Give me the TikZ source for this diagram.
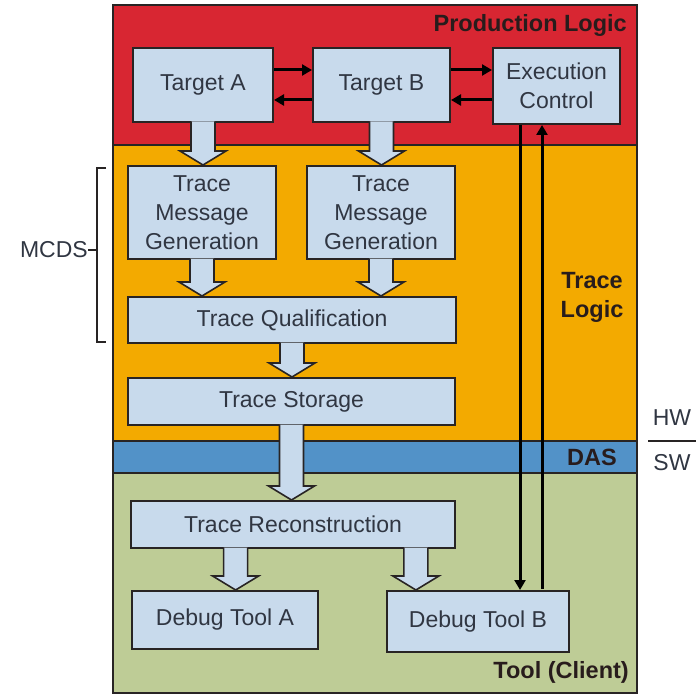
\documentclass[tikz,border=0pt]{standalone}
\usepackage{fontspec}
\setmainfont{Liberation Sans}
\usetikzlibrary{calc,arrows.meta}
\definecolor{redband}{RGB}{216,38,50}
\definecolor{orangeband}{RGB}{243,170,0}
\definecolor{blueband}{RGB}{82,146,200}
\definecolor{greenband}{RGB}{190,204,150}
\definecolor{boxfill}{RGB}{200,218,236}
\definecolor{edge}{RGB}{40,36,36}
\definecolor{txt}{RGB}{48,54,66}
\definecolor{lbl}{RGB}{40,28,28}
\newcommand\barrow[2]{%
  \path let \p1=(#1), \p2=(#2) in
  [blockarr] (\x1-12pt,\y1+1.5pt) -- (\x1-12pt,\y2+14pt) -- (\x1-23pt,\y2+14pt) -- (\x1,\y2)
  -- (\x1+23pt,\y2+14pt) -- (\x1+12pt,\y2+14pt) -- (\x1+12pt,\y1+1.5pt);%
}
\tikzset{
  band/.style={draw=edge, line width=1.4pt},
  bx/.style={draw=edge, fill=boxfill, line width=2pt, inner sep=0pt, align=center,
    text=txt, font=\fontsize{23}{29}\selectfont},
  blockarr/.style={draw=edge, fill=boxfill, line width=1.6pt, line join=miter},
  thinarr/.style={draw=black, line width=3pt, -{Triangle[length=10pt,width=11pt]}},
  lab/.style={font=\fontsize{23.5}{29}\selectfont\bfseries, text=lbl, inner sep=0pt},
  side/.style={font=\fontsize{23}{29}\selectfont, text=txt, inner sep=0pt},
}
\begin{document}
\begin{tikzpicture}[x=1pt,y=-1pt]
\useasboundingbox (0,0) rectangle (696,695);
% bands
\path[band, fill=redband] (113,5) rectangle (637,145);
\path[band, fill=orangeband] (113,145) rectangle (637,441);
\path[band, fill=blueband] (113,441) rectangle (637,473);
\path[band, fill=greenband] (113,473) rectangle (637,693);
% band labels
\node[lab, anchor=east] (plab) at (627,25) {Production Logic};
\node[lab, align=center] (tlab) at (592,297) {Trace\\Logic};
\node[lab] (dlab) at (592,457) {DAS};
\node[lab, anchor=east] (clab) at (629,672) {Tool (Client)};
% boxes
\node[bx, minimum width=140, minimum height=74] (ta) at (203,85) {Target A};
\node[bx, minimum width=137, minimum height=74] (tb) at (381.5,85) {Target B};
\node[bx, minimum width=127, minimum height=76] (ec) at (556.5,86) {Execution\\Control};
\node[bx, minimum width=148, minimum height=93] (tm1) at (202,212.5) {Trace\\Message\\Generation};
\node[bx, minimum width=148, minimum height=93] (tm2) at (381,212.5) {Trace\\Message\\Generation};
\node[bx, minimum width=328, minimum height=46] (tq) at (292,320) {Trace Qualification};
\node[bx, minimum width=327, minimum height=47] (ts) at (291.5,401.5) {Trace Storage};
\node[bx, minimum width=324, minimum height=47] (tr) at (293,524.5) {Trace Reconstruction};
\node[bx, minimum width=186, minimum height=58] (da) at (225,620) {Debug Tool A};
\node[bx, minimum width=182, minimum height=61] (db) at (478,621.5) {Debug Tool B};
% block arrows
\barrow{ta.south}{tm1.north}
\barrow{tb.south}{tm2.north}
\barrow{tm1.south}{tq.north}
\barrow{tm2.south}{tq.north}
\barrow{tq.south}{ts.north}
\barrow{ts.south}{tr.north}
\barrow{$(tr.south west)!0.324!(tr.south east)$}{da.north}
\barrow{$(tr.south west)!0.877!(tr.south east)$}{db.north}
% thin arrows
\draw[thinarr] ([yshift=15pt]ta.east) -- ([yshift=15pt]ta.east -| tb.west);
\draw[thinarr] ([yshift=-15pt]tb.west) -- ([yshift=-15pt]tb.west -| ta.east);
\draw[thinarr] ([yshift=15pt]tb.east) -- ([yshift=15pt]tb.east -| ec.west);
\draw[thinarr] ([yshift=-15pt]ec.west |- tb.east) -- ([yshift=-15pt]tb.east);
\draw[thinarr] ([xshift=-36.5pt]ec.south) -- ([xshift=-36.5pt]ec.south |- db.north);
\draw[thinarr] ([xshift=-14.5pt,yshift=1pt]ec.south |- db.north) -- ([xshift=-14.5pt]ec.south);
% MCDS bracket
\node[side, anchor=east] (mcds) at (88,250) {MCDS};
\coordinate (bt) at (106,168);
\coordinate (bb) at (106,342);
\draw[edge, line width=1.6pt] (bt) -- (97,168) -- (97,342) -- (bb);
\draw[edge, line width=1.6pt] (mcds.east) -- (mcds.east -| 97,0);
% HW / SW
\node[side] (hw) at (672,418) {HW};
\node[side] (sw) at (672,463) {SW};
\coordinate (hl) at (648,441);
\coordinate (hr) at (696,441);
\draw[edge, line width=1.6pt] (hl) -- (hr);
\end{tikzpicture}
\end{document}
